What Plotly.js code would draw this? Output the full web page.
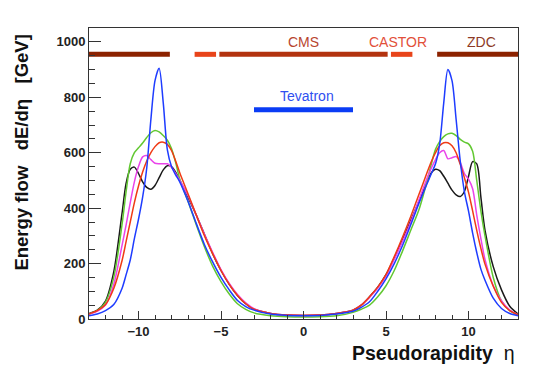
<!DOCTYPE html>
<html>
<head>
<meta charset="utf-8">
<script src="https://cdn.plot.ly/plotly-3.0.1.min.js"></script>
<style>
html,body{margin:0;padding:0;background:#fff}
#plot{width:538px;height:372px}
</style>
</head>
<body>
<div id="plot"></div>
<script>
////////// DATA ///////////////

let eta = [-13, -12.5, -12, -11.5, -11, -10.75, -10.5, -10.25, -10, -9.75, -9.5, -9.25, -9, -8.75, -8.5, -8.25, -8, -7.75, -7.5, -7, -6.5, -6, -5.5, -5, -4.5, -4, -3.5, -3, -2, -1, 0,
  1, 2, 3, 3.5, 4, 4.5, 5, 5.5, 6, 6.5, 7, 7.5, 7.75, 8, 8.25, 8.5, 8.75, 9, 9.25, 9.5, 9.75, 10, 10.25, 10.5, 10.75, 11, 11.5, 12, 12.5, 13]

let flowBlack = [20, 32, 65, 170, 380, 490, 540, 548, 525, 495, 475, 468, 482, 510, 538, 553, 550, 530, 500, 440, 375, 305, 235, 175, 125, 85, 55, 35, 20, 14, 13,
  14, 20, 32, 50, 80, 115, 160, 220, 285, 355, 425, 495, 528, 540, 535, 515, 490, 465, 448, 442, 460, 514, 568, 560, 440, 320, 189, 105, 46, 18]

let flowGreen = [18, 30, 60, 150, 340, 460, 560, 600, 618, 635, 655, 672, 680, 675, 662, 645, 615, 565, 505, 425, 340, 260, 190, 135, 90, 55, 35, 22, 12, 8, 7,
  8, 12, 24, 35, 50, 80, 120, 175, 245, 320, 395, 500, 560, 612, 640, 658, 668, 670, 662, 648, 638, 632, 605, 500, 390, 300, 150, 65, 30, 15]

let flowMagenta = [18, 28, 50, 125, 265, 340, 420, 495, 550, 585, 590, 575, 562, 560, 560, 560, 548, 525, 500, 445, 375, 305, 240, 178, 128, 88, 58, 37, 20, 14, 13,
  14, 20, 32, 50, 78, 112, 155, 215, 280, 350, 430, 510, 545, 575, 600, 608, 578, 582, 586, 565, 525, 505, 470, 375, 290, 215, 120, 65, 32, 15]

let flowRed = [18, 30, 52, 110, 210, 280, 350, 420, 480, 530, 570, 600, 622, 636, 638, 630, 608, 570, 528, 452, 375, 300, 235, 175, 125, 85, 55, 35, 20, 14, 13,
  14, 20, 32, 50, 80, 115, 160, 225, 295, 370, 450, 530, 568, 600, 625, 636, 636, 625, 600, 558, 510, 458, 390, 320, 255, 198, 118, 60, 30, 15]

let flowBlue = [12, 18, 30, 52, 110, 160, 213, 290, 360, 440, 545, 720, 860, 905, 780, 610, 550, 520, 495, 425, 345, 268, 205, 150, 105, 67, 45, 32, 18, 13, 12,
  13, 18, 28, 42, 62, 100, 145, 200, 265, 340, 418, 490, 525, 560, 630, 780, 900, 860, 720, 570, 460, 390, 310, 240, 180, 140, 75, 38, 20, 12]

// detector acceptance bars (eta ranges)
let detNames = ['ZDC', 'CASTOR', 'CMS', 'CASTOR', 'ZDC']
let detLo = [-13, -6.6, -5.1, 5.3, 8.1]
let detHi = [-8.1, -5.3, 5.1, 6.6, 13]
let tevLo = -3
let tevHi = 3

////////// STYLE ///////////////
let detColor = {ZDC: '#8c2200', CASTOR: '#e8441a', CMS: '#b3330f'}
let labelColor = {ZDC: '#8e3a26', CASTOR: '#e2503a', CMS: '#b8452e'}
let font = 'Liberation Sans, Arial, Helvetica, sans-serif'
let barLevel = 955
let tevLevel = 755

let data = []

for (let i = 0; i < detNames.length; i++) {
  data.push({
    x: [detLo[i], detHi[i]],
    y: [barLevel, barLevel],
    mode: 'lines',
    hoverinfo: 'skip',
    showlegend: false,
    line: {color: detColor[detNames[i]], width: 5}
  })
}
data.push({
  x: [tevLo, tevHi],
  y: [tevLevel, tevLevel],
  mode: 'lines',
  showlegend: false,
  line: {color: '#0a3cf5', width: 5}
})

let curves = [
  [flowBlack, '#1a1a1a'],
  [flowGreen, '#62c832'],
  [flowMagenta, '#ea44ea'],
  [flowRed, '#f03a14'],
  [flowBlue, '#1e3cff']
]
curves.forEach(function(c){
  data.push({
    x: eta,
    y: c[0],
    mode: 'lines',
    showlegend: false,
    line: {color: c[1], width: 1.5, shape: 'spline', smoothing: 0.8}
  })
})

let annotations = [
  {text: 'CMS', x: 0, y: 999, color: labelColor.CMS},
  {text: 'CASTOR', x: 5.75, y: 999, color: labelColor.CASTOR},
  {text: 'ZDC', x: 10.8, y: 999, color: labelColor.ZDC},
  {text: 'Tevatron', x: 0.2, y: 806, color: '#2f4ff0'}
].map(function(a){
  return {xref: 'x', yref: 'y', x: a.x, y: a.y, text: a.text, showarrow: false,
    xanchor: 'center', yanchor: 'middle', font: {family: font, size: 14, color: a.color}}
})

annotations.push({
  xref: 'paper', yref: 'paper', x: 0.998, y: -0.117,
  xanchor: 'right', yanchor: 'middle', showarrow: false,
  text: '<b>Pseudorapidity</b>\u00a0\u00a0η',
  font: {family: font, size: 19.5, color: '#111'}
})
annotations.push({
  xref: 'paper', yref: 'paper', x: -0.158, y: 0.985,
  xanchor: 'center', yanchor: 'top', showarrow: false, textangle: -90,
  text: '<b>Energy flow\u00a0\u00a0\u00a0dE/dη\u00a0\u00a0\u00a0[GeV]</b>',
  font: {family: font, size: 18.5, color: '#111'}
})

let layout = {
  width: 538,
  height: 372,
  margin: {l: 89, r: 20, t: 28, b: 53},
  paper_bgcolor: '#fff',
  plot_bgcolor: '#fff',
  showlegend: false,
  font: {family: font},
  xaxis: {
    range: [-13, 13], showgrid: false, zeroline: false,
    showline: true, mirror: true, linecolor: '#333', linewidth: 1,
    ticks: 'inside', ticklen: 8, tickcolor: '#333', dtick: 5, tick0: 0,
    tickfont: {family: font, size: 13, color: '#222', weight: 'bold'},
    minor: {dtick: 1, ticks: 'inside', ticklen: 4, tickcolor: '#333'}
  },
  yaxis: {
    range: [0, 1050], showgrid: false, zeroline: false,
    showline: true, mirror: true, linecolor: '#333', linewidth: 1,
    ticks: 'inside', ticklen: 12, tickcolor: '#333', dtick: 200, tick0: 0,
    tickfont: {family: font, size: 13, color: '#222', weight: 'bold'},
    minor: {dtick: 50, ticks: 'inside', ticklen: 6, tickcolor: '#333'}
  },
  annotations: annotations
}

Plotly.newPlot('plot', data, layout, {displayModeBar: false, staticPlot: true})
</script>
</body>
</html>
